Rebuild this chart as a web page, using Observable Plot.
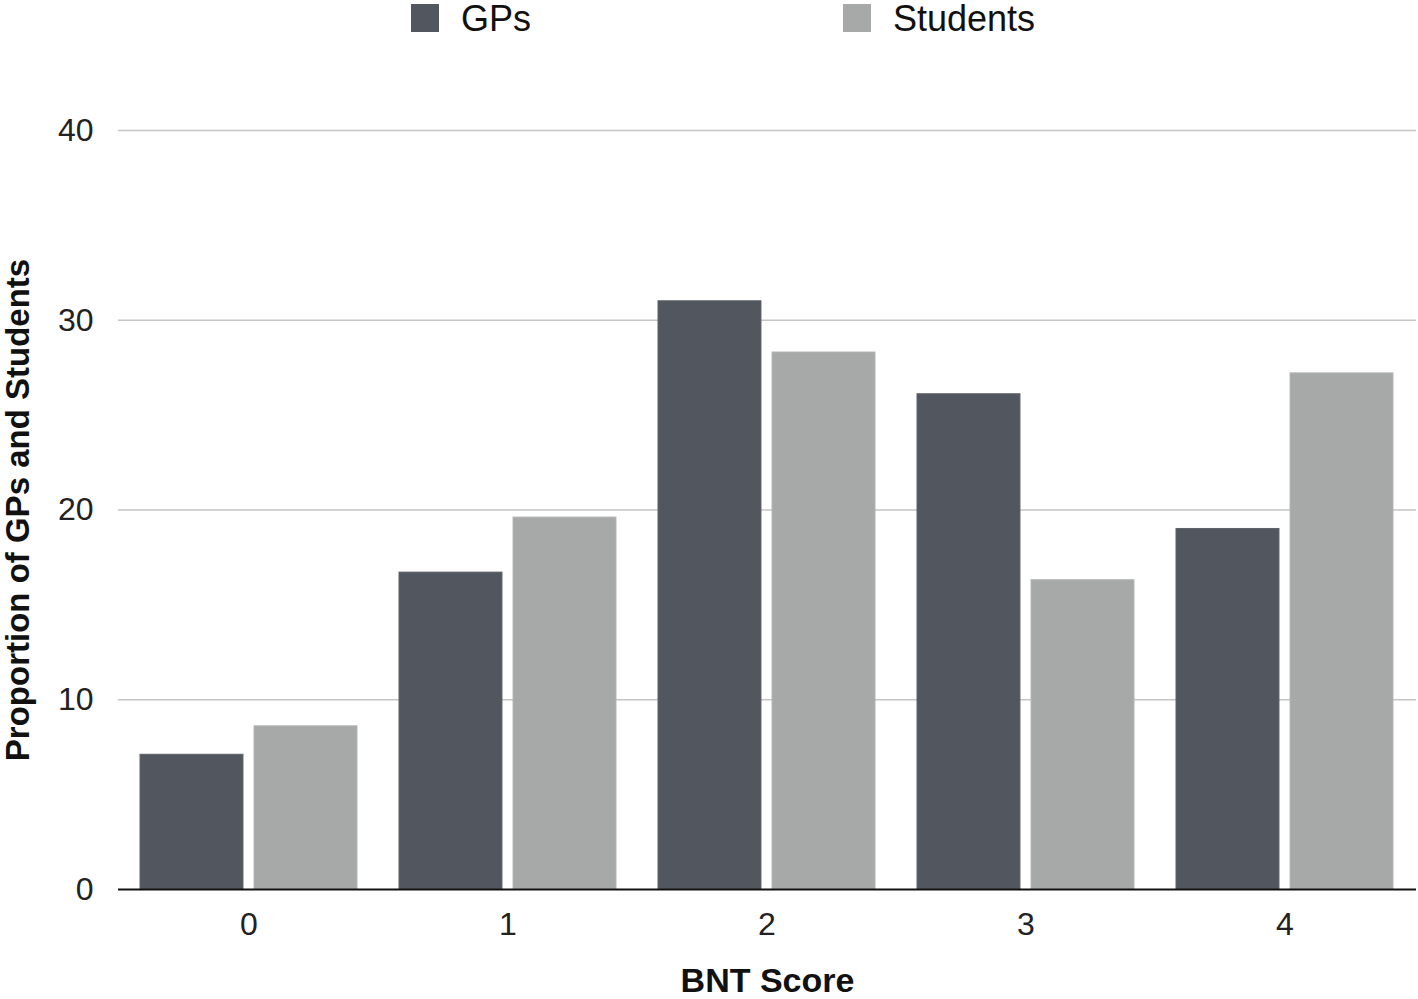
<!DOCTYPE html>
<html>
<head>
<meta charset="utf-8">
<script src="https://cdn.jsdelivr.net/npm/d3@7"></script>
<script src="https://cdn.jsdelivr.net/npm/@observablehq/plot@0.6"></script>
<style>
  body { margin: 0; background: #fff; }
  #legend { position: relative; width: 1418px; height: 40px; font-family: "Liberation Sans", Arial, sans-serif; font-size: 36px; color: #111; }
  #legend .sw { position: absolute; top: 4px; width: 28px; height: 28px; }
  #legend .lb { position: absolute; top: 0px; line-height: 38px; white-space: nowrap; }
  #chart svg { display: block; }
</style>
</head>
<body>
<div id="legend"></div>
<div id="chart"></div>
<script>
// ---- data ----
const scores = ["0", "1", "2", "3", "4"];
const gps = [7.1, 16.7, 31.0, 26.1, 19.0];
const students = [8.6, 19.6, 28.3, 16.3, 27.2];
const seriesNames = ["GPs", "Students"];
const seriesColors = ["#52575f", "#a6a9a8"];
const yTicks = [0, 10, 20, 30, 40];
const xTitle = "BNT Score";
const yTitle = "Proportion of GPs and Students";

const rows = [];
scores.forEach((s, i) => {
  rows.push({score: s, series: seriesNames[0], value: gps[i]});
  rows.push({score: s, series: seriesNames[1], value: students[i]});
});

// ---- legend (HTML, above the SVG) ----
const legend = document.getElementById("legend");
const legendPos = [411, 843];
seriesNames.forEach((name, i) => {
  const sw = document.createElement("div");
  sw.className = "sw";
  sw.style.left = legendPos[i] + "px";
  sw.style.background = seriesColors[i];
  legend.appendChild(sw);
  const lb = document.createElement("div");
  lb.className = "lb";
  lb.style.left = (legendPos[i] + 50) + "px";
  lb.textContent = name;
  legend.appendChild(lb);
});

// ---- layout ----
const W = 1418, H = 959;
const mL = 118, mR = 2, mT = 90, mB = 110;
const pInner = 0.162, pOuter = 0.085;
const step = (W - mL - mR) / (scores.length - pInner + 2 * pOuter);
const bw = step * (1 - pInner);
const barW = bw * 0.475;
const inset = bw - barW;

const chart = Plot.plot({
  width: W,
  height: H,
  marginLeft: mL,
  marginRight: mR,
  marginTop: mT,
  marginBottom: mB,
  style: {fontFamily: "'Liberation Sans', Arial, sans-serif", fontSize: "32px", color: "#222", background: "#fff"},
  x: {domain: scores, paddingInner: pInner, paddingOuter: pOuter, label: null, tickSize: 0, tickPadding: 23},
  y: {domain: [0, 40], ticks: yTicks, label: null, tickSize: 0, tickPadding: 25},
  marks: [
    Plot.ruleY(yTicks.filter(d => d !== 0), {stroke: "#c4c4c4", strokeWidth: 1.5}),
    Plot.barY(rows.filter(d => d.series === seriesNames[0]), {x: "score", y: "value", fill: seriesColors[0], stroke: "#5e6269", strokeWidth: 1, insetRight: inset}),
    Plot.barY(rows.filter(d => d.series === seriesNames[1]), {x: "score", y: "value", fill: seriesColors[1], stroke: "#b3b5b4", strokeWidth: 1, insetLeft: inset}),
    Plot.ruleY([0], {stroke: "#111", strokeWidth: 2}),
    Plot.text([yTitle], {frameAnchor: "left", rotate: -90, dx: -100, textAnchor: "middle", lineAnchor: "middle", fontWeight: "bold", fontSize: 33, fill: "#111"}),
    Plot.text([xTitle], {frameAnchor: "bottom", dy: 92, textAnchor: "middle", lineAnchor: "middle", fontWeight: "bold", fontSize: 34, fill: "#111"})
  ]
});
document.getElementById("chart").appendChild(chart);
</script>
</body>
</html>
